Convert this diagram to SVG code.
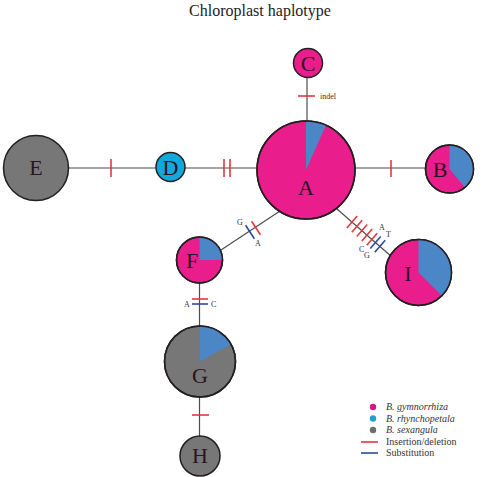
<svg xmlns="http://www.w3.org/2000/svg" width="485" height="477" viewBox="0 0 485 477">
<style>
.edge{stroke:#4d4d4d;stroke-width:1.2;fill:none}
.indel{stroke:#e0393e;stroke-width:1.6}
.sub{stroke:#2e4a9a;stroke-width:1.6}
.node{stroke:#231f20;stroke-width:1.5}
.mag{fill:#e91e8c}
.blu{fill:#4b86c6}
.cya{fill:#11a8dc}
.gry{fill:#777777}
.lbl{font-family:"Liberation Serif",serif;font-size:22px;fill:#2a1420;text-anchor:middle}
.sm{font-family:"Liberation Serif",serif;font-size:8px;fill:#333}
.leg{font-family:"Liberation Serif",serif;font-size:10px;fill:#333}
</style>
<rect width="485" height="477" fill="#fff"/>
<text x="260" y="16" font-family="Liberation Serif,serif" font-size="16" fill="#222" text-anchor="middle">Chloroplast haplotype</text>
<g id="connectors">
<line class="edge" x1="307" y1="77" x2="307" y2="122"/>
<line class="edge" x1="68" y1="168" x2="156" y2="168"/>
<line class="edge" x1="185" y1="168" x2="257" y2="168"/>
<line class="edge" x1="355" y1="168" x2="426" y2="168"/>
<line class="edge" x1="337" y1="209" x2="392" y2="257"/>
<line class="edge" x1="221" y1="250" x2="280" y2="211"/>
<line class="edge" x1="199.5" y1="283" x2="199.5" y2="326"/>
<line class="edge" x1="199.5" y1="397" x2="199.5" y2="436"/>
<line class="indel" x1="298" y1="96" x2="315" y2="96"/>
<text class="sm" x="320" y="99">indel</text>
<line class="indel" x1="111" y1="159" x2="111" y2="177"/>
<line class="indel" x1="224" y1="159" x2="224" y2="177"/>
<line class="indel" x1="230" y1="159" x2="230" y2="177"/>
<line class="indel" x1="391" y1="160" x2="391" y2="177"/>
<line class="indel" x1="346.8" y1="228" x2="357.2" y2="216"/>
<line class="indel" x1="351.8" y1="232.3" x2="362.2" y2="220.3"/>
<line class="indel" x1="356.8" y1="236.6" x2="367.2" y2="224.6"/>
<line class="indel" x1="361.8" y1="240.9" x2="372.2" y2="228.9"/>
<line class="indel" x1="366.8" y1="245.2" x2="377.2" y2="233.2"/>
<line class="sub" x1="370.3" y1="248.4" x2="380.7" y2="236.4"/>
<line class="sub" x1="374.8" y1="252.3" x2="385.2" y2="240.3"/>
<text class="sm" x="379" y="230">A</text>
<text class="sm" x="386" y="237">T</text>
<text class="sm" x="359" y="252">C</text>
<text class="sm" x="364" y="258">G</text>
<line class="indel" x1="251.6" y1="221.3" x2="260.4" y2="234.7"/>
<line class="sub" x1="245.6" y1="225.3" x2="254.4" y2="238.7"/>
<text class="sm" x="237" y="225">G</text>
<text class="sm" x="255" y="246">A</text>
<line class="indel" x1="192" y1="299" x2="208" y2="299"/>
<line class="sub" x1="192" y1="304" x2="208" y2="304"/>
<text class="sm" x="184" y="307">A</text>
<text class="sm" x="211" y="307">C</text>
<line class="indel" x1="192" y1="415" x2="209" y2="415"/>
</g>
<g id="A">
<circle class="node mag" cx="306" cy="170" r="49"/>
<path class="blu" d="M306,170 L306,121 A49,49 0 0 1 325.9,125.2 Z"/>
<circle cx="306" cy="170" r="49" fill="none" class="node"/>
<text class="lbl" x="306" y="195" font-size="24">A</text>
</g>
<g id="B">
<circle class="node mag" cx="449.5" cy="169" r="24"/>
<path class="blu" d="M449.5,169 L449.5,145 A24,24 0 0 1 464.9,187.4 Z"/>
<circle cx="449.5" cy="169" r="24" fill="none" class="node"/>
<text class="lbl" x="440" y="177">B</text>
</g>
<g id="C">
<circle class="node mag" cx="308" cy="63" r="14.5"/>
<text class="lbl" x="308" y="71">C</text>
</g>
<g id="D">
<circle class="node cya" cx="170.5" cy="167" r="14.5"/>
<text class="lbl" x="170.5" y="175">D</text>
</g>
<g id="E">
<circle class="node gry" cx="36" cy="168" r="32.5"/>
<text class="lbl" x="36" y="175">E</text>
</g>
<g id="F">
<circle class="node mag" cx="199.5" cy="260" r="23"/>
<path class="blu" d="M199.5,260 L199.5,237 A23,23 0 0 1 222.5,260 Z"/>
<circle cx="199.5" cy="260" r="23" fill="none" class="node"/>
<text class="lbl" x="192" y="268">F</text>
</g>
<g id="G">
<circle class="node gry" cx="200" cy="361.5" r="35.5"/>
<path class="blu" d="M200,361.5 L200,326 A35.5,35.5 0 0 1 231.1,344.3 Z"/>
<circle cx="200" cy="361.5" r="35.5" fill="none" class="node"/>
<text class="lbl" x="200" y="383">G</text>
</g>
<g id="H">
<circle class="node gry" cx="200" cy="456" r="20"/>
<text class="lbl" x="200" y="463">H</text>
</g>
<g id="I">
<circle class="node mag" cx="418.5" cy="272.5" r="33"/>
<path class="blu" d="M418.5,272.5 L418.5,239.5 A33,33 0 0 1 441.8,295.8 Z"/>
<circle cx="418.5" cy="272.5" r="33" fill="none" class="node"/>
<text class="lbl" x="408" y="281">I</text>
</g>
<g id="legend">
<circle cx="373" cy="407" r="3.2" fill="#d6177f"/>
<circle cx="373" cy="418.5" r="3.2" fill="#1ba3d6"/>
<circle cx="373" cy="430" r="3.2" fill="#6e6e6e"/>
<text class="leg" x="386" y="410" font-style="italic">B. gymnorrhiza</text>
<text class="leg" x="386" y="421.5" font-style="italic">B. rhynchopetala</text>
<text class="leg" x="386" y="433" font-style="italic">B. sexangula</text>
<line class="indel" x1="361" y1="442" x2="378" y2="442"/>
<line class="sub" x1="361" y1="453" x2="378" y2="453"/>
<text class="leg" x="386" y="445">Insertion/deletion</text>
<text class="leg" x="386" y="456">Substitution</text>
</g>
</svg>
